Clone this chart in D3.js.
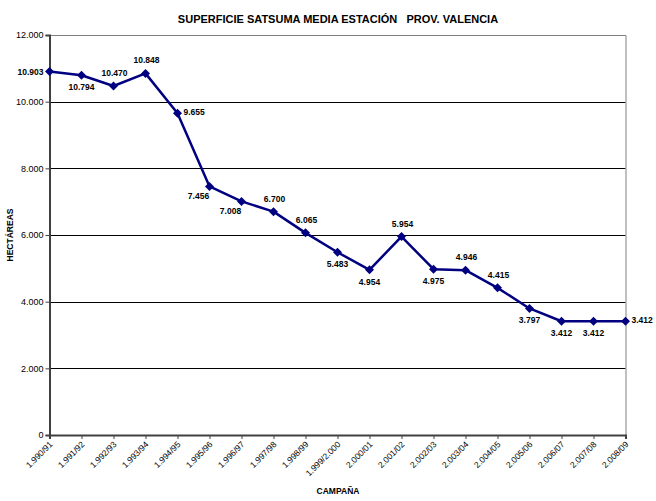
<!DOCTYPE html>
<html>
<head>
<meta charset="utf-8">
<script src="https://cdn.jsdelivr.net/npm/d3@7"></script>
<style>
  html, body { margin: 0; padding: 0; background: #fff; }
  svg { display: block; font-family: "Liberation Sans", Arial, Helvetica, sans-serif; }
</style>
</head>
<body>
<svg id="chart" width="656" height="501"></svg>
<script>
// Campaigns (x categories)
const campaigns = ["1.990/91","1.991/92","1.992/93","1.993/94","1.994/95","1.995/96","1.996/97","1.997/98","1.998/99","1.999/2.000","2.000/01","2.001/02","2.002/03","2.003/04","2.004/05","2.005/06","2.006/07","2.007/08","2.008/09"];
// Average satsuma area per season (hectares)
const hectares = [10903,10794,10470,10848,9655,7456,7008,6700,6065,5483,4954,5954,4975,4946,4415,3797,3412,3412,3412];
// Where each value label sits relative to its point
const labelPlacement = ["left","below","above","above","right","belowLeft","belowLeft","above","above","below","below","above","below","above","above","below","below","below","right"];
// Y axis ticks
const yTicks = [0,2000,4000,6000,8000,10000,12000];

const fmt = v => d3.format(",")(v).replace(/,/g, ".");

const svg = d3.select("#chart");
const plotLeft = 49.5, plotRight = 625.5, plotTop = 35, plotBottom = 435;

const x = d3.scalePoint().domain(campaigns).range([plotLeft, plotRight]);
const y = d3.scaleLinear().domain([0, 12000]).range([plotBottom, plotTop]);

// Title
svg.append("text")
  .attr("x", 338).attr("y", 22.5)
  .attr("text-anchor", "middle")
  .attr("font-size", 11).attr("font-weight", "bold")
  .style("white-space", "pre")
  .text("SUPERFICIE SATSUMA MEDIA ESTACIÓN   PROV. VALENCIA");

// Horizontal gridlines
svg.append("g").selectAll("line")
  .data(yTicks.filter(t => t > 0 && t < 12000))
  .join("line")
  .attr("x1", plotLeft).attr("x2", plotRight)
  .attr("y1", d => Math.round(y(d)) + 0.5).attr("y2", d => Math.round(y(d)) + 0.5)
  .attr("stroke", "#000").attr("stroke-width", 1);

// Plot frame (top and right)
svg.append("path")
  .attr("d", `M${plotLeft},${plotTop + 0.5}H${plotRight + 0.5}V${plotBottom}`)
  .attr("fill", "none").attr("stroke", "#808080").attr("stroke-width", 1);

// Y axis
const yAxis = svg.append("g")
  .attr("transform", `translate(${plotLeft},0)`)
  .call(d3.axisLeft(y).tickValues(yTicks).tickFormat(fmt).tickSize(4).tickPadding(2));
yAxis.select(".domain").attr("stroke", "#404040").attr("stroke-width", 2);
yAxis.selectAll(".tick line").attr("stroke", "#404040");
yAxis.selectAll(".tick text").attr("font-size", 9).attr("fill", "#000")
  .attr("font-family", "'Liberation Sans', Arial, sans-serif");

// X axis
const xAxis = svg.append("g")
  .attr("transform", `translate(0,${plotBottom})`)
  .call(d3.axisBottom(x).tickSize(4).tickPadding(3));
xAxis.select(".domain").attr("stroke", "#404040").attr("stroke-width", 2);
xAxis.selectAll(".tick line").attr("stroke", "#404040");
xAxis.selectAll(".tick text")
  .attr("font-size", 8.5).attr("fill", "#000")
  .attr("font-family", "'Liberation Sans', Arial, sans-serif")
  .attr("text-anchor", "end")
  .attr("dy", null)
  .attr("transform", "translate(3,10) rotate(-45)")
  .attr("y", 0).attr("x", 0);

// Axis titles
svg.append("text")
  .attr("transform", `translate(13,${(plotTop + plotBottom) / 2}) rotate(-90)`)
  .attr("text-anchor", "middle")
  .attr("font-size", 8.5).attr("font-weight", "bold")
  .text("HECTÁREAS");
svg.append("text")
  .attr("x", 338).attr("y", 494)
  .attr("text-anchor", "middle")
  .attr("font-size", 8.5).attr("font-weight", "bold")
  .text("CAMPAÑA");

// Series line
const data = campaigns.map((c, i) => ({ c, v: hectares[i], p: labelPlacement[i] }));
svg.append("path")
  .datum(data)
  .attr("fill", "none")
  .attr("stroke", "#000080")
  .attr("stroke-width", 2.5)
  .attr("stroke-linejoin", "round")
  .attr("d", d3.line().x(d => x(d.c)).y(d => y(d.v)));

// Diamond markers
const r = 4.5;
svg.append("g").selectAll("path")
  .data(data)
  .join("path")
  .attr("transform", d => `translate(${x(d.c)},${y(d.v)})`)
  .attr("d", `M0,${-r}L${r},0L0,${r}L${-r},0Z`)
  .attr("fill", "#000080");

// Value labels
const offsets = {
  above:     { dx: 1,   dy: -13, anchor: "middle" },
  below:     { dx: 0,   dy: 12,  anchor: "middle" },
  belowLeft: { dx: -11, dy: 10,  anchor: "middle" },
  left:      { dx: -6,  dy: 0,   anchor: "end" },
  right:     { dx: 6,   dy: -1,  anchor: "start" }
};
svg.append("g").selectAll("text")
  .data(data)
  .join("text")
  .attr("x", d => x(d.c) + offsets[d.p].dx)
  .attr("y", d => y(d.v) + offsets[d.p].dy)
  .attr("dy", "0.35em")
  .attr("text-anchor", d => offsets[d.p].anchor)
  .attr("font-size", 8.5).attr("font-weight", "bold")
  .attr("fill", "#000")
  .text(d => fmt(d.v));
</script>
</body>
</html>
